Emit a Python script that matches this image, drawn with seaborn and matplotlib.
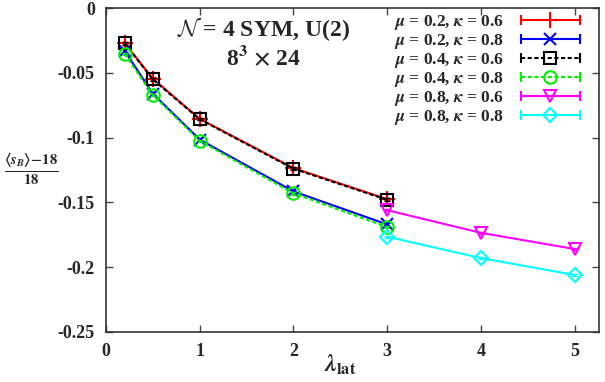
import numpy as np
import pandas as pd
import matplotlib
matplotlib.use("Agg")
import matplotlib.pyplot as plt
import seaborn as sns
from matplotlib.lines import Line2D
from matplotlib.legend_handler import HandlerLine2D, HandlerTuple

# ---- data ----
lam_low = [0.2, 0.5, 1.0, 2.0, 3.0]
lam_high = [3.0, 4.0, 5.0]

y_mu02_k06 = [-0.0270, -0.0545, -0.0855, -0.1235, -0.1475]
y_mu02_k08 = [-0.0330, -0.0660, -0.1015, -0.1415, -0.1670]
y_mu04_k06 = [-0.0272, -0.0550, -0.0858, -0.1240, -0.1480]
y_mu04_k08 = [-0.0355, -0.0670, -0.1025, -0.1430, -0.1690]
y_mu08_k06 = [-0.1560, -0.1735, -0.1860]
y_mu08_k08 = [-0.1765, -0.1930, -0.2060]

err_small = [0.001, 0.001, 0.001, 0.001, 0.001]
err_high = [0.0008, 0.0008, 0.0008]

labels = [r"$\mu$ = 0.2, $\kappa$ = 0.6", r"$\mu$ = 0.2, $\kappa$ = 0.8",
          r"$\mu$ = 0.4, $\kappa$ = 0.6", r"$\mu$ = 0.4, $\kappa$ = 0.8",
          r"$\mu$ = 0.8, $\kappa$ = 0.6", r"$\mu$ = 0.8, $\kappa$ = 0.8"]

xticks = [0, 1, 2, 3, 4, 5]
yticks = [0, -0.05, -0.1, -0.15, -0.2, -0.25]
ytick_labels = ["0", "-0.05", "-0.1", "-0.15", "-0.2", "-0.25"]

sns.set_theme(style="ticks")
plt.rcParams["font.family"] = ["Liberation Serif", "DejaVu Serif"]
plt.rcParams["font.weight"] = "bold"
plt.rcParams["mathtext.fontset"] = "stix"
plt.rcParams["axes.unicode_minus"] = False

fig = plt.figure(figsize=(6.05, 3.82), dpi=100)
ax = fig.add_axes([0.175, 0.131, 0.815, 0.848])

series = [
    (lam_low, y_mu02_k06, err_small, "#ff0000", "-", "+", "full"),
    (lam_low, y_mu02_k08, err_small, "#0000ff", "-", "x", "full"),
    (lam_low, y_mu04_k06, err_small, "#000000", (0, (2, 1.2)), "s", "none"),
    (lam_low, y_mu04_k08, err_small, "#00ee00", (0, (2, 1.2)), "o", "none"),
    (lam_high, y_mu08_k06, err_high, "#ff00ff", "-", "v", "none"),
    (lam_high, y_mu08_k08, err_high, "#00ffff", "-", "D", "none"),
]
msizes = {"+": 11, "x": 9, "s": 9, "o": 9, "v": 8, "D": 7}

handles = []
hmap = {tuple: HandlerTuple(ndivide=1, pad=0)}
for (xs, ys, es, col, ls, mk, fill), lab in zip(series, labels):
    df = pd.DataFrame({"x": xs, "y": ys})
    sns.lineplot(data=df, x="x", y="y", ax=ax, color=col, linestyle=ls,
                 linewidth=1.5, marker=mk, markersize=msizes[mk],
                 markerfacecolor="none" if fill == "none" else col,
                 markeredgecolor=col, markeredgewidth=1.5, legend=False)
    ax.errorbar(xs, ys, yerr=es, fmt="none", ecolor=col, elinewidth=1.2,
                capsize=2)
    caps = Line2D([], [], color=col, linestyle=ls, linewidth=1.5,
                  marker="|", markersize=7, markeredgewidth=1.5)
    main = Line2D([], [], color="none", marker=mk, markersize=msizes[mk],
                  markerfacecolor="none" if fill == "none" else col,
                  markeredgecolor=col, markeredgewidth=1.5)
    hmap[caps] = HandlerLine2D(numpoints=2)
    hmap[main] = HandlerLine2D(numpoints=1)
    handles.append((caps, main))

leg = ax.legend(handles, labels, handler_map=hmap,
                loc="upper right", bbox_to_anchor=(0.972, 0.985),
                markerfirst=False, frameon=False, fontsize=12.5,
                handlelength=4.0, handletextpad=0.65, labelspacing=0.0,
                borderaxespad=0.0, borderpad=0.0)

ax.set_xlim(0, 5.26)
ax.set_ylim(-0.25, 0)
ax.set_xticks(xticks)
ax.set_xticklabels([str(t) for t in xticks])
ax.set_yticks(yticks)
ax.set_yticklabels(ytick_labels)
ax.tick_params(direction="in", top=True, right=True, length=5, width=1,
               labelsize=13, pad=8, color="#444444")
for lbl in ax.get_xticklabels() + ax.get_yticklabels():
    lbl.set_fontweight("bold")
for sp in ax.spines.values():
    sp.set_visible(True)
    sp.set_linewidth(1.2)
    sp.set_color("#333333")

ax.set_xlabel(r"$\lambda_{\mathbf{lat}}$", fontsize=17, va="center")
ax.xaxis.set_label_coords(0.475, -0.1)
ax.set_ylabel(r"$\frac{\langle s_B\rangle\!-\!\mathbf{18}}{\mathbf{18}}$",
              fontsize=15, rotation=0, va="center", ha="center")
ax.yaxis.set_label_coords(-0.152, 0.5)

ax.text(0.32, 0.935, r"$\mathcal{N}$ = 4 SYM, U(2)", transform=ax.transAxes,
        ha="center", va="center", fontsize=17, fontweight="bold",
        math_fontfamily="cm")
ax.text(0.32, 0.845, r"8$^{\mathbf{3}}$ $\times$ 24", transform=ax.transAxes,
        ha="center", va="center", fontsize=17, fontweight="bold")

fig.savefig("out.png", dpi=100)
